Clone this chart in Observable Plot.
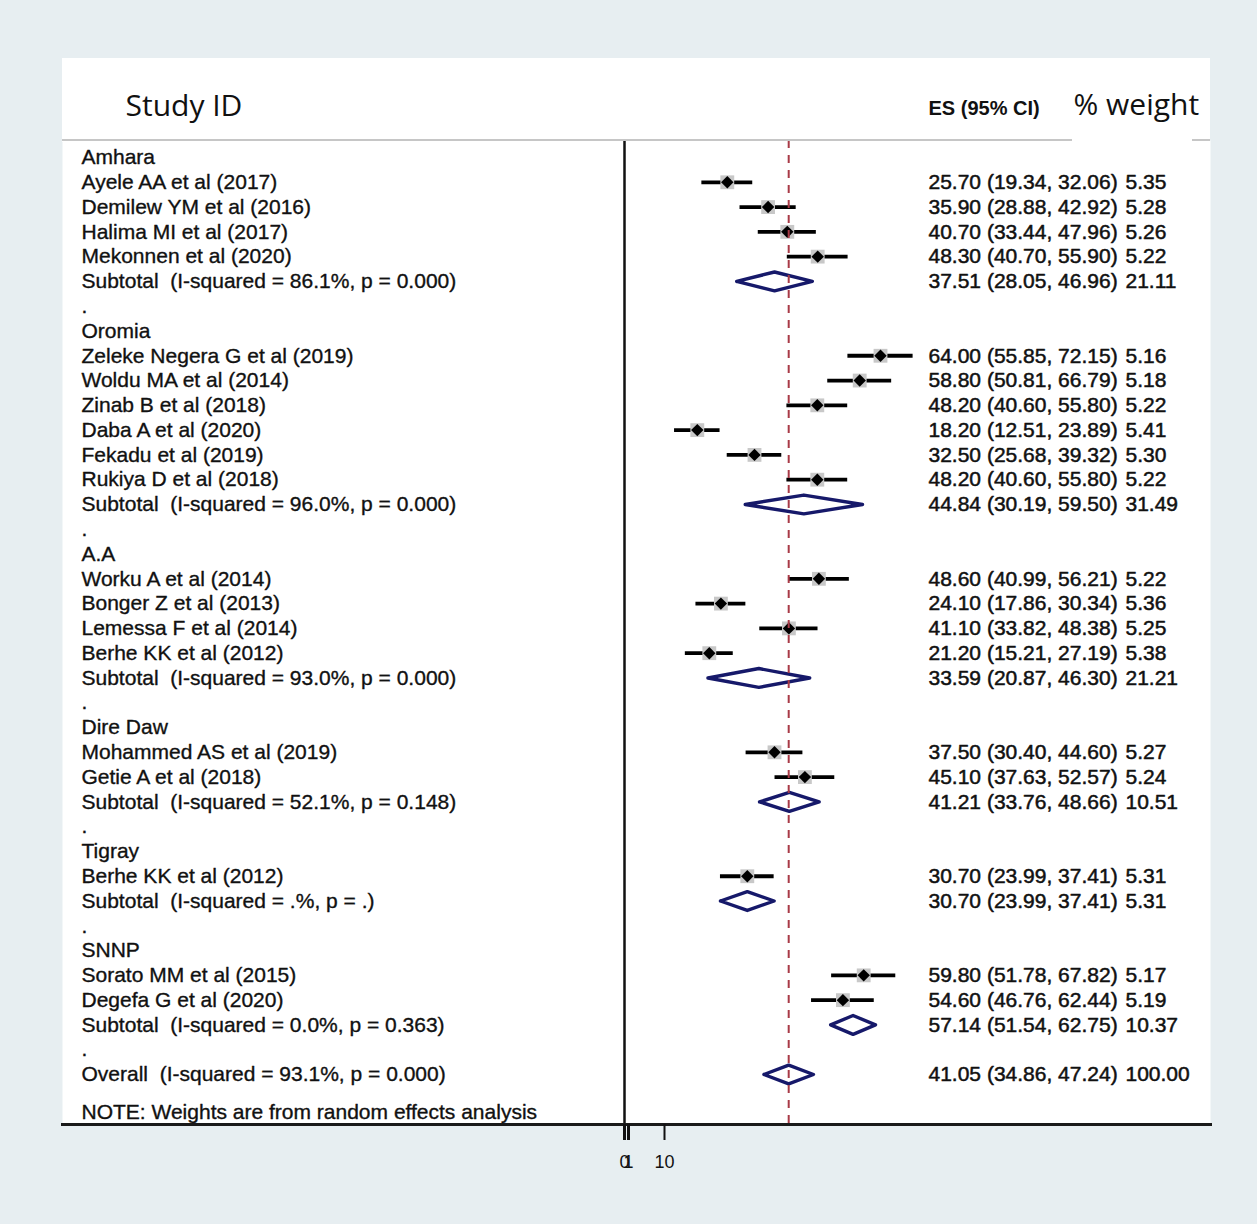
<!DOCTYPE html>
<html><head><meta charset="utf-8">
<script src="https://cdn.jsdelivr.net/npm/d3@7"></script>
<script src="https://cdn.jsdelivr.net/npm/@observablehq/plot@0.6"></script>
<style>
html,body{margin:0;padding:0;background:#e7eef1;}
#wrap{position:relative;width:1257px;height:1224px;overflow:hidden;}
#head{position:absolute;left:62px;top:58px;width:1148px;height:84px;background:#fff;}
#chart{position:absolute;left:0;top:0;}
.hline{position:absolute;top:139px;height:2px;background:#c6c6c6;z-index:5;}
</style></head>
<body>
<div id="wrap">
  <div id="head"></div>
  <div id="chart"></div>
  <div class="hline" style="left:62px;width:1010px"></div>
  <div class="hline" style="left:1192px;width:18px"></div>
</div>
<script>
// ---- data ----
const regions = ["Amhara", "Oromia", "A.A", "Dire Daw", "Tigray", "SNNP"];
const studyRegion = [0,0,0,0, 1,1,1,1,1,1, 2,2,2,2, 3,3, 4, 5,5];
const studyNames = [
  "Ayele AA et al (2017)", "Demilew YM et al (2016)", "Halima MI et al (2017)", "Mekonnen et al (2020)",
  "Zeleke Negera G et al (2019)", "Woldu MA et al (2014)", "Zinab B et al (2018)", "Daba A et al (2020)", "Fekadu et al (2019)", "Rukiya D et al (2018)",
  "Worku A et al (2014)", "Bonger Z et al (2013)", "Lemessa F et al (2014)", "Berhe KK et al (2012)",
  "Mohammed AS et al (2019)", "Getie A et al (2018)",
  "Berhe KK et al (2012)",
  "Sorato MM et al (2015)", "Degefa G et al (2020)"
];
const studyES   = [25.70,35.90,40.70,48.30, 64.00,58.80,48.20,18.20,32.50,48.20, 48.60,24.10,41.10,21.20, 37.50,45.10, 30.70, 59.80,54.60];
const studyLow  = [19.34,28.88,33.44,40.70, 55.85,50.81,40.60,12.51,25.68,40.60, 40.99,17.86,33.82,15.21, 30.40,37.63, 23.99, 51.78,46.76];
const studyHigh = [32.06,42.92,47.96,55.90, 72.15,66.79,55.80,23.89,39.32,55.80, 56.21,30.34,48.38,27.19, 44.60,52.57, 37.41, 67.82,62.44];
const studyWeight = [5.35,5.28,5.26,5.22, 5.16,5.18,5.22,5.41,5.30,5.22, 5.22,5.36,5.25,5.38, 5.27,5.24, 5.31, 5.17,5.19];

const subI2 = ["86.1", "96.0", "93.0", "52.1", ".", "0.0"];
const subP = ["0.000", "0.000", "0.000", "0.148", ".", "0.363"];
const subES = [37.51, 44.84, 33.59, 41.21, 30.70, 57.14];
const subLow = [28.05, 30.19, 20.87, 33.76, 23.99, 51.54];
const subHigh = [46.96, 59.50, 46.30, 48.66, 37.41, 62.75];
const subWeight = [21.11, 31.49, 21.21, 10.51, 5.31, 10.37];

const overallI2 = "93.1", overallP = "0.000";
const overallES = 41.05, overallLow = 34.86, overallHigh = 47.24, overallWeight = 100.00;

const xTicksMajor = [0, 1];
const xTicksMinor = [10];
const noteText = "NOTE: Weights are from random effects analysis";

// ---- build rows ----
const f2 = v => v.toFixed(2);
const ciText = (e, l, h) => `${f2(e)} (${f2(l)}, ${f2(h)})`;
const labelRows = [], studies = [], diamonds = [];
let r = 0;
regions.forEach((g, gi) => {
  labelRows.push({row: r++, label: g});
  studyNames.forEach((s, i) => {
    if (studyRegion[i] !== gi) return;
    const d = {row: r++, label: s, es: studyES[i], lo: studyLow[i], hi: studyHigh[i], w: studyWeight[i]};
    studies.push(d); labelRows.push(d);
  });
  const sub = {row: r++, label: `Subtotal  (I-squared = ${subI2[gi]}%, p = ${subP[gi]})`,
    es: subES[gi], lo: subLow[gi], hi: subHigh[gi], w: subWeight[gi], id: g};
  labelRows.push(sub); diamonds.push(sub);
  labelRows.push({row: r++, label: "."});
});
const ov = {row: r++, label: `Overall  (I-squared = ${overallI2}%, p = ${overallP})`,
  es: overallES, lo: overallLow, hi: overallHigh, w: overallWeight, id: "overall"};
labelRows.push(ov); diamonds.push(ov);
const lastRow = ov.row;

const dh = 0.38;
const diamondPts = diamonds.flatMap(d => [
  {id: d.id, x: d.lo, y: d.row}, {id: d.id, x: d.es, y: d.row - dh},
  {id: d.id, x: d.hi, y: d.row}, {id: d.id, x: d.es, y: d.row + dh},
  {id: d.id, x: d.lo, y: d.row}
]);
const valueRows = labelRows.filter(d => d.es !== undefined);

const font = "'Liberation Sans', Arial, sans-serif";
const sans2 = "'Open Sans', 'Noto Sans', sans-serif";
const chart = Plot.plot({
  width: 1257, height: 1224,
  marginTop: 140, marginLeft: 62, marginRight: 47, marginBottom: 100,
  style: {background: "transparent", fontFamily: font, whiteSpace: "pre", color: "#111"},
  x: {domain: [0, 100], range: [624, 1024], axis: null},
  y: {domain: [0, lastRow], range: [157, 1074], axis: null},
  marks: [
    Plot.frame({fill: "white", stroke: null}),
    Plot.ruleX([0], {stroke: "#111", strokeWidth: 2.5}),
    Plot.frame({anchor: "bottom", stroke: "#1a1a1a", strokeWidth: 3}),
    Plot.axisX({ticks: xTicksMajor, anchor: "bottom", tickSize: 16, tickPadding: 15, fontSize: 18,
      tickFormat: d => String(d), strokeWidth: 3, stroke: "#111", fill: "#111"}),
    Plot.axisX({ticks: xTicksMinor, anchor: "bottom", tickSize: 16, tickPadding: 15, fontSize: 18,
      tickFormat: d => String(d), strokeWidth: 2, stroke: "#111", fill: "#111"}),
    // header texts
    Plot.text(["Study ID"], {text: d => d, frameAnchor: "top-left", dx: 63, dy: -46,
      textAnchor: "start", fontSize: 30, fontFamily: sans2, fill: "#111"}),
    Plot.text(["ES (95% CI)"], {text: d => d, frameAnchor: "top-left", dx: 866, dy: -40,
      textAnchor: "start", fontSize: 20, fontWeight: "bold", fill: "#111"}),
    Plot.text(["% weight"], {text: d => d, frameAnchor: "top-right", dx: -137, dy: -47,
      textAnchor: "start", fontSize: 30, fontFamily: sans2, fill: "#111"}),
    // CI lines and markers
    Plot.ruleY(studies, {y: "row", x1: "lo", x2: "hi", stroke: "#000", strokeWidth: 3.8}),
    Plot.dot(studies, {x: "es", y: "row", symbol: "square", r: 7.8, fill: "#c8c8c8", stroke: null}),
    Plot.dot(studies, {x: "es", y: "row", symbol: "diamond2", r: 5.6, fill: "#000", stroke: null}),
    Plot.line(diamondPts, {x: "x", y: "y", z: "id", stroke: "#16196a", strokeWidth: 3.4, curve: "linear"}),
    Plot.ruleX([overallES], {stroke: "#a83a46", strokeWidth: 2, strokeDasharray: "8 7"}),
    // left labels
    Plot.text(labelRows, {y: "row", text: "label", frameAnchor: "left", dx: 19, textAnchor: "start",
      fontSize: 21, fill: "#111", stroke: "#111", strokeWidth: 0.35, style: {letterSpacing: "0.45px"}}),
    // values
    Plot.text(valueRows, {y: "row", text: d => ciText(d.es, d.lo, d.hi), frameAnchor: "left", dx: 866,
      textAnchor: "start", fontSize: 21, fill: "#111", stroke: "#111", strokeWidth: 0.5}),
    Plot.text(valueRows, {y: "row", text: d => f2(d.w), frameAnchor: "left", dx: 1063,
      textAnchor: "start", fontSize: 21, fill: "#111", stroke: "#111", strokeWidth: 0.5}),
    // note
    Plot.text([noteText], {text: d => d, frameAnchor: "bottom-left", dx: 19, dy: -6,
      textAnchor: "start", fontSize: 21, fill: "#111", stroke: "#111", strokeWidth: 0.35})
  ]
});
document.getElementById("chart").appendChild(chart);
</script>
</body></html>
